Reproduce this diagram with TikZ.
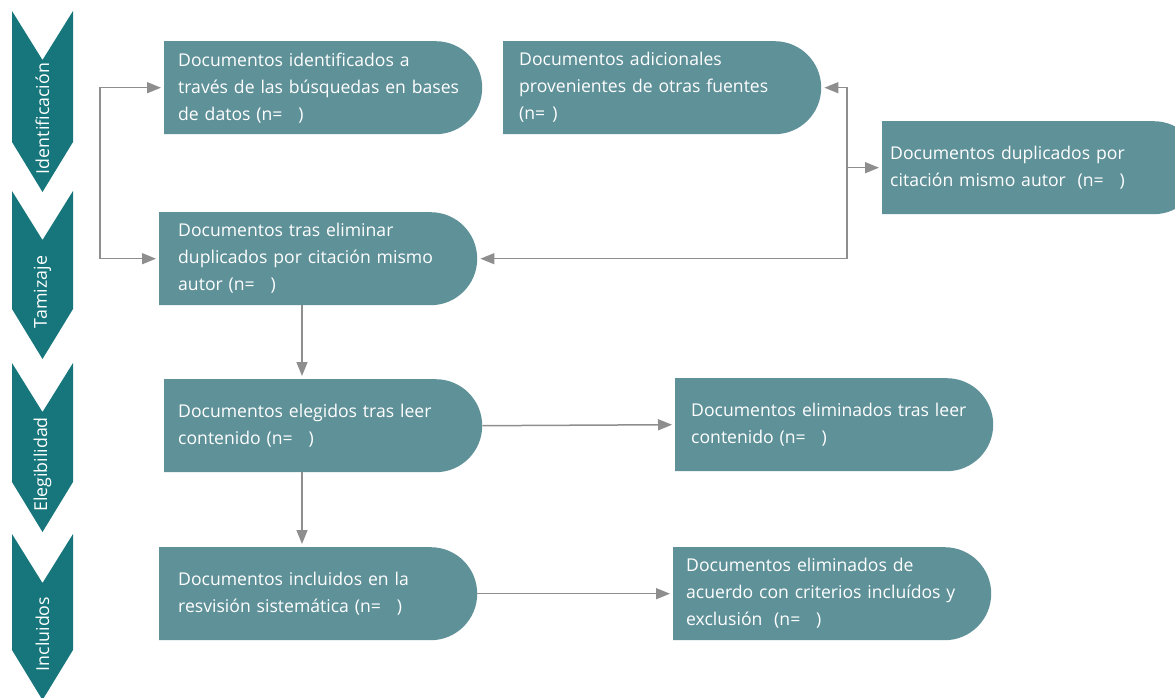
\documentclass[tikz,border=0pt]{standalone}
\usepackage{fontspec}
\setmainfont{Open Sans}
\usetikzlibrary{arrows.meta}
\definecolor{cajaverde}{HTML}{5F9199}
\definecolor{fasever}{HTML}{16767B}
\definecolor{gris}{HTML}{8E8E8E}
\tikzset{
  caja/.style={rectangle, anchor=north west, minimum width=318pt, minimum height=93pt,
    inner sep=0pt, fill=white, text=white, text width=290pt, align=left,
    font=\fontsize{17.6}{27}\selectfont,
    path picture={\fill[cajaverde] (path picture bounding box.south west)
      -- (path picture bounding box.north west)
      -- ([xshift=-46.5pt]path picture bounding box.north east)
      arc[start angle=90, end angle=-90, radius=46.5pt] -- cycle;}},
  fase/.style={rotate=90, inner sep=0pt, text=white, font=\fontsize{17.8}{20}\selectfont},
  flecha/.style={draw=gris, line width=1.5pt, shorten >=3pt},
  >={Triangle[length=14pt,width=11pt]}
}
\begin{document}
\begin{tikzpicture}[x=1pt,y=1pt]
  \useasboundingbox (0,0) rectangle (1175,-698);
  \foreach \arriba/\abajo/\etapa [count=\i] in {11/192/Identificación, 191/359/Tamizaje, 363/532/Elegibilidad, 534/700/Incluidos}{
    \fill[fasever] (12,-\arriba) -- (42.5,-\arriba-49) -- (73,-\arriba) -- (73,-\abajo+50)
      -- (42.5,-\abajo) -- (12,-\abajo+50) -- cycle;
    \node[fase] (fase\i) at (42.5,{-(\arriba+\abajo)/2-17}) {\etapa};
  }
  \node[caja] (ident) at (164,-41) {Documentos identificados a\\través de las búsquedas en bases\\de datos (n=\hspace{0.9em})};
  \node[caja, text width=286pt] (adic) at (503,-41) {Documentos adicionales\\provenientes de otras fuentes\\(n=\hspace{0.4em})};
  \node[caja, text width=302pt] (dupl) at (882,-121) {Documentos duplicados por\\citación mismo autor\ \ (n=\hspace{0.9em})};
  \node[caja, text width=280pt] (tamiz) at (159,-212) {Documentos tras eliminar\\duplicados por citación mismo\\autor (n=\hspace{0.9em})};
  \node[caja] (eleg) at (164,-379) {Documentos elegidos tras leer\\contenido (n=\hspace{0.9em})};
  \node[caja, text width=286pt] (elim) at (675,-378) {Documentos eliminados tras leer\\contenido (n=\hspace{0.9em})};
  \node[caja, text width=280pt] (incl) at (159,-547) {Documentos incluidos en la\\resvisión sistemática (n=\hspace{0.9em})};
  \node[caja, text width=292pt] (excl) at (673,-547) {Documentos eliminados de\\acuerdo con criterios incluídos y\\exclusión\ \ (n=\hspace{0.9em})};
  \coordinate (izq) at (100,0);
  \coordinate (der) at (847,0);
  \coordinate (eje) at (302,0);
  \draw[flecha, <->, shorten <=3pt] (ident.west) -- (ident.west -| izq) |- (tamiz.west);
  \draw[flecha, <->, shorten <=3pt] (adic.east) -- (adic.east -| der) |- (tamiz.east);
  \draw[flecha, ->] (der |- dupl.west) -- (dupl.west);
  \draw[flecha, ->] (tamiz.south -| eje) -- (eleg.north -| eje);
  \draw[flecha, ->] (eleg.south -| eje) -- (incl.north -| eje);
  \draw[flecha, ->] (eleg.east) -- (elim.west);
  \draw[flecha, ->] (incl.east) -- (excl.west);
\end{tikzpicture}
\end{document}
